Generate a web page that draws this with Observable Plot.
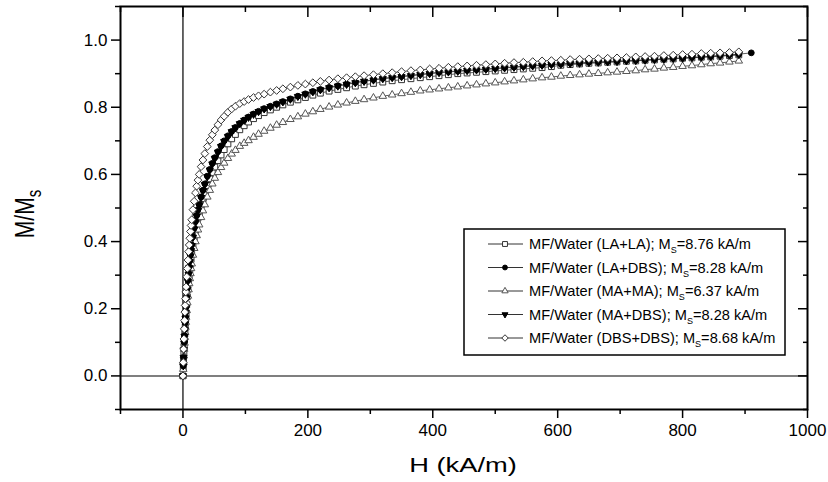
<!DOCTYPE html>
<html><head><meta charset="utf-8">
<script src="https://cdn.jsdelivr.net/npm/d3@7"></script>
<script src="https://cdn.jsdelivr.net/npm/@observablehq/plot@0.6"></script>
<style>
body{margin:0;background:#fff;}
#chart{width:828px;height:482px;}
</style>
</head><body><div id="chart"></div>
<script>
// Applied field H (kA/m) at which the curves were sampled
const H = [0,0.5,1,1.5,2,2.5,3,3.5,4,4.5,5,6,7,8,9,10,11,12,13,14,16,18,20,22,24,26,29,32,35,39,43,47,51,56,61,66,72,78,84,91,98,105,113,121,130,140,150,160,172,184,196,208,220,234,248,262,276,290,305,320,335,350,365,380,395,410,425,440,455,470,485,500,515,530,545,560,575,590,605,620,635,650,665,680,695,710,725,740,755,770,785,800,815,830,845,860,875,890,910];

// M/Ms
const M_LA_LA = [0,0.025,0.048,0.07,0.09,0.108,0.125,0.142,0.158,0.172,0.186,
0.212,0.236,0.258,0.278,0.297,0.315,0.332,0.347,0.362,
0.388,0.412,0.433,0.452,0.47,0.486,
0.508,0.528,0.546,
0.567,0.587,0.605,0.622,
0.641,0.658,0.674,
0.691,0.706,0.719,
0.733,0.745,0.756,
0.766,0.775,0.784,
0.792,0.8,0.807,
0.815,0.822,0.829,0.836,0.842,
0.848,0.853,0.858,0.863,0.867,
0.871,0.875,0.879,0.882,0.885,0.888,0.891,0.894,0.897,0.9,
0.902,0.904,0.906,0.908,0.91,0.912,0.914,0.916,0.918,0.921,
0.925,0.927,0.929,0.931,0.932,0.934,0.935,0.937,0.938,0.94,
0.941,0.943,0.944,0.946,0.947,0.949,0.95,0.952,0.954,0.956];

const M_LA_DBS = [0,0.03,0.055,0.08,0.1,0.12,0.14,0.158,0.175,0.19,0.205,
0.235,0.26,0.285,0.305,0.325,0.343,0.36,0.375,0.39,
0.415,0.44,0.46,0.478,0.495,0.51,
0.533,0.553,0.572,
0.595,0.615,0.633,0.65,
0.668,0.685,0.7,
0.715,0.728,0.74,
0.752,0.762,0.771,
0.78,0.788,0.796,
0.803,0.81,0.817,
0.825,0.833,0.84,0.847,0.853,
0.859,0.864,0.869,0.874,0.878,
0.882,0.886,0.889,0.892,0.895,0.898,0.901,0.904,0.906,0.908,
0.91,0.912,0.914,0.916,0.918,0.92,0.922,0.924,0.926,0.928,
0.929,0.931,0.932,0.934,0.935,0.936,0.937,0.939,0.94,0.941,
0.943,0.944,0.946,0.947,0.949,0.95,0.952,0.954,0.956,0.958,
0.962];

const M_MA_MA = [0,0.02,0.04,0.06,0.08,0.098,0.115,0.13,0.145,0.16,0.175,
0.195,0.218,0.238,0.257,0.275,0.29,0.305,0.32,0.334,
0.36,0.38,0.4,0.418,0.435,0.45,
0.472,0.492,0.51,
0.533,0.553,0.572,0.589,
0.606,0.621,0.634,
0.648,0.661,0.672,
0.684,0.693,0.701,
0.711,0.72,0.729,
0.738,0.747,0.755,
0.764,0.772,0.78,0.787,0.794,
0.801,0.807,0.813,0.818,0.823,
0.828,0.833,0.837,0.841,0.845,0.849,0.852,0.855,0.858,0.861,
0.864,0.867,0.87,0.873,0.876,0.879,0.882,0.885,0.888,0.89,
0.893,0.895,0.897,0.899,0.901,0.903,0.905,0.907,0.909,0.912,
0.914,0.917,0.919,0.922,0.924,0.927,0.93,0.932,0.935,0.938];

const M_MA_DBS = [0,0.03,0.055,0.078,0.098,0.118,0.137,0.155,0.172,0.188,0.203,
0.232,0.258,0.282,0.303,0.322,0.34,0.357,0.373,0.388,
0.413,0.437,0.458,0.476,0.493,0.508,
0.531,0.551,0.57,
0.593,0.613,0.631,0.648,
0.666,0.683,0.698,
0.713,0.727,0.739,
0.751,0.761,0.77,
0.779,0.787,0.795,
0.802,0.809,0.816,
0.824,0.832,0.839,0.846,0.852,
0.858,0.863,0.868,0.873,0.877,
0.881,0.885,0.888,0.891,0.894,0.897,0.9,0.903,0.905,0.907,
0.909,0.911,0.913,0.915,0.917,0.919,0.921,0.923,0.925,0.927,
0.928,0.93,0.931,0.933,0.934,0.935,0.936,0.938,0.939,0.94,
0.942,0.943,0.945,0.946,0.948,0.949,0.951,0.953,0.955,0.957];

const M_DBS_DBS = [0,0.04,0.08,0.11,0.14,0.165,0.19,0.21,0.23,0.25,0.265,
0.295,0.32,0.345,0.37,0.39,0.41,0.43,0.448,0.465,
0.495,0.52,0.545,0.565,0.583,0.6,
0.623,0.643,0.662,
0.683,0.702,0.718,0.732,
0.748,0.762,0.773,
0.785,0.795,0.803,
0.811,0.817,0.823,
0.829,0.834,0.839,
0.845,0.85,0.855,
0.86,0.865,0.869,0.873,0.877,
0.881,0.885,0.888,0.891,0.894,
0.897,0.9,0.903,0.906,0.909,0.911,0.914,0.916,0.919,0.921,
0.923,0.925,0.927,0.929,0.931,0.933,0.934,0.936,0.938,0.939,
0.94,0.942,0.943,0.944,0.945,0.946,0.947,0.948,0.95,0.951,
0.952,0.954,0.955,0.957,0.958,0.96,0.961,0.962,0.963,0.965];

const seriesNames = ["MF/Water (LA+LA)", "MF/Water (LA+DBS)", "MF/Water (MA+MA)", "MF/Water (MA+DBS)", "MF/Water (DBS+DBS)"];
const saturation = ["8.76", "8.28", "6.37", "8.28", "8.68"];

const xMajor = [0, 200, 400, 600, 800, 1000];
const xMinor = [-100, 100, 300, 500, 700, 900];
const yMajor = [0, 0.2, 0.4, 0.6, 0.8, 1.0];
const yMinor = [-0.1, 0.1, 0.3, 0.5, 0.7, 0.9, 1.1];

// inverted triangle symbol
const triangleDown = {draw(ctx, size){const s=Math.sqrt(size)*0.6824, t=s*0.5, u=s*Math.sqrt(3)/2; ctx.moveTo(0,s); ctx.lineTo(u,-t); ctx.lineTo(-u,-t); ctx.closePath();}};

const styles = [
  {symbol: "square", r: 3.3, fill: "white", stroke: "#333", d3sym: d3.symbolSquare},
  {symbol: "circle", r: 2.9, fill: "black", stroke: "black", d3sym: d3.symbolCircle},
  {symbol: "triangle2", r: 3.6, fill: "white", stroke: "#555", d3sym: d3.symbolTriangle2},
  {symbol: triangleDown, r: 3.4, fill: "black", stroke: "black", d3sym: triangleDown},
  {symbol: "diamond2", r: 3.5, fill: "white", stroke: "#333", d3sym: d3.symbolDiamond2}
];
const Ms = [M_LA_LA, M_LA_DBS, M_MA_MA, M_MA_DBS, M_DBS_DBS];
const series = Ms.map((M, k) => ({
  name: seriesNames[k],
  rows: M.map((m, i) => ({H: H[i], M: m})),
  ...styles[k]
}));
const drawOrder = [0, 2, 1, 3, 4];

const chart = Plot.plot({
  width: 828, height: 482,
  marginLeft: 120, marginRight: 21, marginTop: 6, marginBottom: 73,
  style: {fontFamily: "'Liberation Sans', Arial, sans-serif", fontSize: "17px", color: "black", background: "white", overflow: "visible"},
  x: {domain: [-100, 1000]},
  y: {domain: [-0.1, 1.1]},
  marks: [
    Plot.ruleX([0], {stroke: "black", strokeWidth: 1.2}),
    Plot.ruleY([0], {stroke: "#555", strokeWidth: 1.5}),
    ...drawOrder.map(k => Plot.line(series[k].rows, {x: "H", y: "M", stroke: "#333", strokeWidth: 0.8})),
    ...drawOrder.map(k => Plot.dot(series[k].rows, {x: "H", y: "M", symbol: series[k].symbol, r: series[k].r, fill: series[k].fill, stroke: series[k].stroke, strokeWidth: 1})),
    Plot.frame({stroke: "black", strokeWidth: 2}),
    Plot.axisX(xMajor, {anchor: "bottom", tickSize: 9, tickPadding: 5, tickFormat: d => String(d), label: null, strokeWidth: 1.5}),
    Plot.axisX(xMinor, {anchor: "bottom", tickSize: 5, fill: "none", label: null, strokeWidth: 1.5}),
    Plot.axisX(xMajor, {anchor: "top", tickSize: 10, dy: 10, fill: "none", label: null, strokeWidth: 1.5}),
    Plot.axisX(xMinor, {anchor: "top", tickSize: 5, dy: 5, fill: "none", label: null, strokeWidth: 1.5}),
    Plot.axisY(yMajor, {anchor: "left", tickSize: 9, tickPadding: 4, tickFormat: d3.format(".1f"), label: null, strokeWidth: 1.5}),
    Plot.axisY(yMinor, {anchor: "left", tickSize: 5, fill: "none", label: null, strokeWidth: 1.5}),
    Plot.axisY(yMajor, {anchor: "right", tickSize: 10, dx: -10, fill: "none", label: null, strokeWidth: 1.5}),
    Plot.axisY(yMinor, {anchor: "right", tickSize: 5, dx: -5, fill: "none", label: null, strokeWidth: 1.5})
  ]
});
document.getElementById("chart").append(chart);

const svg = d3.select(chart);
const font = "'Liberation Sans', Arial, sans-serif";

// axis titles
svg.append("text")
  .attr("transform", "translate(463,472) scale(1.3,1)")
  .attr("text-anchor", "middle")
  .attr("font-family", font).attr("font-size", 21).attr("fill", "black")
  .text("H (kA/m)");

const yt = svg.append("text")
  .attr("transform", "translate(34,214) rotate(-90) scale(1,1.3)")
  .attr("text-anchor", "middle")
  .attr("font-family", font).attr("font-size", 21).attr("fill", "black");
yt.append("tspan").text("M/M");
yt.append("tspan").attr("font-size", 15).attr("dy", 5).text("s");

// legend
const lg = svg.append("g").attr("font-family", font).attr("font-size", 14.6).attr("text-anchor", "start");
lg.append("rect").attr("x", 464).attr("y", 229).attr("width", 321).attr("height", 126)
  .attr("fill", "white").attr("stroke", "black").attr("stroke-width", 1.5);
series.forEach((s, k) => {
  const cy = 244 + k * 23.5;
  lg.append("line").attr("x1", 488).attr("x2", 523).attr("y1", cy).attr("y2", cy)
    .attr("stroke", "#333").attr("stroke-width", 1);
  lg.append("path").attr("transform", `translate(505,${cy})`)
    .attr("d", d3.symbol(s.d3sym, Math.PI * s.r * s.r * 0.7)())
    .attr("fill", s.fill).attr("stroke", s.stroke).attr("stroke-width", 1);
  const t = lg.append("text").attr("x", 529).attr("y", cy + 5).attr("fill", "black").attr("text-anchor", "start");
  t.append("tspan").text(s.name + "; M");
  t.append("tspan").attr("font-size", 9).attr("dy", 4).text("S");
  t.append("tspan").attr("dy", -4).text("=" + saturation[k] + " kA/m");
});
</script>
</body></html>
